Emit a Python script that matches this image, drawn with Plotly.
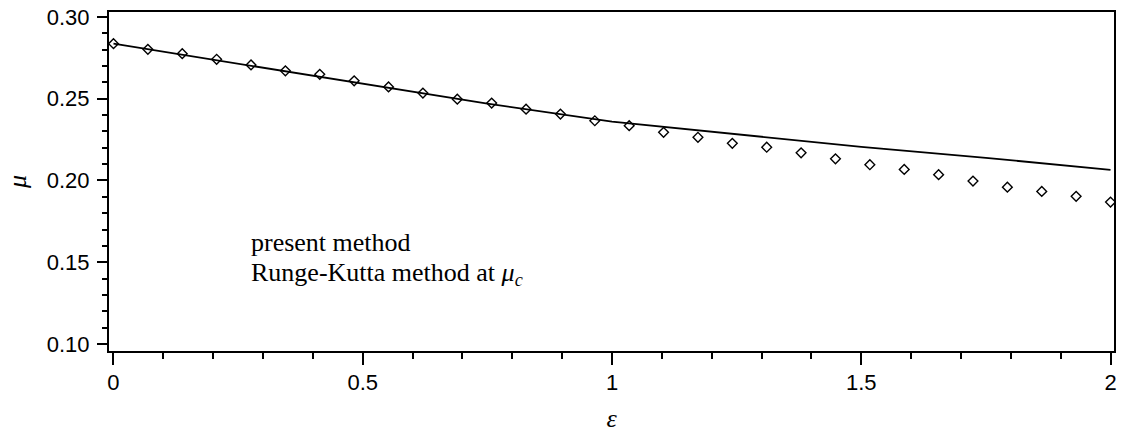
import numpy as np
import plotly.graph_objects as go

# ---- data ----
eps_rk = [i * 2 / 29 for i in range(30)]
mu_rk = [0.2836, 0.2802, 0.2775, 0.2741, 0.2706, 0.2670, 0.2649, 0.2609, 0.2572, 0.2534,
         0.2497, 0.2473, 0.2436, 0.2406, 0.2365, 0.2335, 0.2294, 0.2264, 0.2227, 0.2203,
         0.2169, 0.2132, 0.2096, 0.2067, 0.2035, 0.1996, 0.1959, 0.1933, 0.1903, 0.1868]

eps_line = [0.0, 0.25, 0.5, 0.75, 1.0, 1.25, 1.5, 1.75, 2.0]
mu_line = [0.2836, 0.2715, 0.2592, 0.2470, 0.2360, 0.2282, 0.2205, 0.2138, 0.2065]

x_ticks = [0, 0.5, 1, 1.5, 2]
x_ticklabels = ["0", "0.5", "1", "1.5", "2"]
y_ticks = [0.10, 0.15, 0.20, 0.25, 0.30]
y_ticklabels = ["0.10", "0.15", "0.20", "0.25", "0.30"]

fig = go.Figure()
fig.add_trace(go.Scatter(x=eps_line, y=mu_line, mode="lines",
                         line=dict(color="black", width=1.8), showlegend=False))
fig.add_trace(go.Scatter(x=eps_rk, y=mu_rk, mode="markers",
                         marker=dict(symbol="diamond-open", size=7.5, color="black",
                                     line=dict(width=1.4, color="black")),
                         showlegend=False))

tickfont = dict(family="Liberation Sans", size=22, color="black")

fig.update_layout(
    width=1122, height=437,
    margin=dict(l=109, r=5, t=11, b=86),
    paper_bgcolor="white", plot_bgcolor="white",
    xaxis=dict(range=[-0.009, 2.007], showgrid=False, zeroline=False,
               showline=True, linecolor="black", linewidth=2, mirror=True,
               ticks="outside", ticklen=12, tickwidth=1.5, tickcolor="black",
               tickvals=x_ticks, ticktext=x_ticklabels, tickfont=tickfont,
               ticklabelstandoff=-1,
               minor=dict(dtick=0.1, tick0=0, ticks="outside", ticklen=6,
                          tickwidth=1.5, tickcolor="black", showgrid=False),
               title=dict(text="<i>ε</i>", font=dict(family="Liberation Serif", size=26, color="black"),
                          standoff=14)),
    yaxis=dict(range=[0.0957, 0.303], showgrid=False, zeroline=False,
               showline=True, linecolor="black", linewidth=2, mirror=True,
               ticks="outside", ticklen=10, tickwidth=1.5, tickcolor="black",
               tickvals=y_ticks, ticktext=y_ticklabels, tickfont=tickfont,
               ticklabelstandoff=3,
               minor=dict(dtick=0.01, tick0=0, ticks="outside", ticklen=5,
                          tickwidth=1.5, tickcolor="black", showgrid=False),
               title=dict(text="<i>μ</i>", font=dict(family="Liberation Serif", size=26, color="black"),
                          standoff=13)),
)

fig.add_annotation(text="present method", xref="paper", yref="paper",
                   x=0.139, y=0.3206, xanchor="left", yanchor="middle", showarrow=False,
                   font=dict(family="Liberation Serif", size=26, color="black"))
fig.add_annotation(text="Runge-Kutta method at <i>μ<sub>c</sub></i>", xref="paper", yref="paper",
                   x=0.139, y=0.2265, xanchor="left", yanchor="middle", showarrow=False,
                   font=dict(family="Liberation Serif", size=26, color="black"))

fig.write_html("out.html")
